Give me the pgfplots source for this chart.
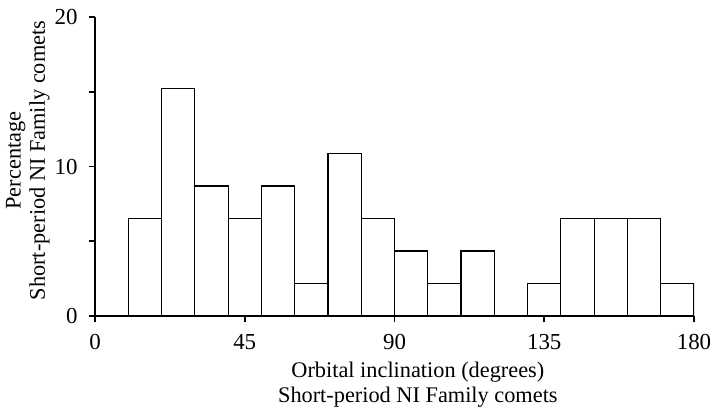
\documentclass[border=0pt]{standalone}
\usepackage{pgfplots}
\pgfplotsset{compat=1.18}
\usepackage{fontspec}
\setmainfont{Liberation Serif}
\begin{document}
\begin{tikzpicture}
\path[use as bounding box] (-47.5bp,-48.5bp) rectangle (308.5bp,158bp);
\begin{axis}[
  at={(0,0)}, anchor=south west,
  scale only axis,
  width=299.5bp, height=149.5bp,
  xmin=0, xmax=180, ymin=0, ymax=20,
  axis lines*=left,
  axis line style={line width=0.9bp},
  tick align=outside,
  major tick length=3.2bp,
  minor tick length=3.2bp,
  tick style={line width=0.8bp, black},
  xtick={0,45,90,135,180},
  ytick={0,10,20},
  minor ytick={5,15},
  /pgf/number format/assume math mode=true,
  tick label style={font=\fontsize{11.5}{13}\selectfont},
  label style={font=\fontsize{11.2}{12.2}\selectfont},
  xlabel={Orbital inclination (degrees)\\Short-period NI Family comets},
  xlabel style={align=center, at={(axis description cs:0.539,-0.23)}, anchor=center, inner sep=0pt},
  ylabel={Percentage\\Short-period NI Family comets},
  ylabel style={align=center, at={(axis description cs:-0.112,0.52)}, anchor=center, inner sep=0pt},
  yticklabel style={xshift=-2bp},
  xticklabel style={yshift=-2.5bp},
]
\addplot[ybar, bar width=10, bar shift=0, draw=black, fill=white, line width=0.6bp]
coordinates {
(15,6.52) (25,15.22) (35,8.70) (45,6.52) (55,8.70) (65,2.17) (75,10.87)
(85,6.52) (95,4.35) (105,2.17) (115,4.35) (125,0) (135,2.17)
(145,6.52) (155,6.52) (165,6.52) (175,2.17)
};
\end{axis}
\end{tikzpicture}
\end{document}
